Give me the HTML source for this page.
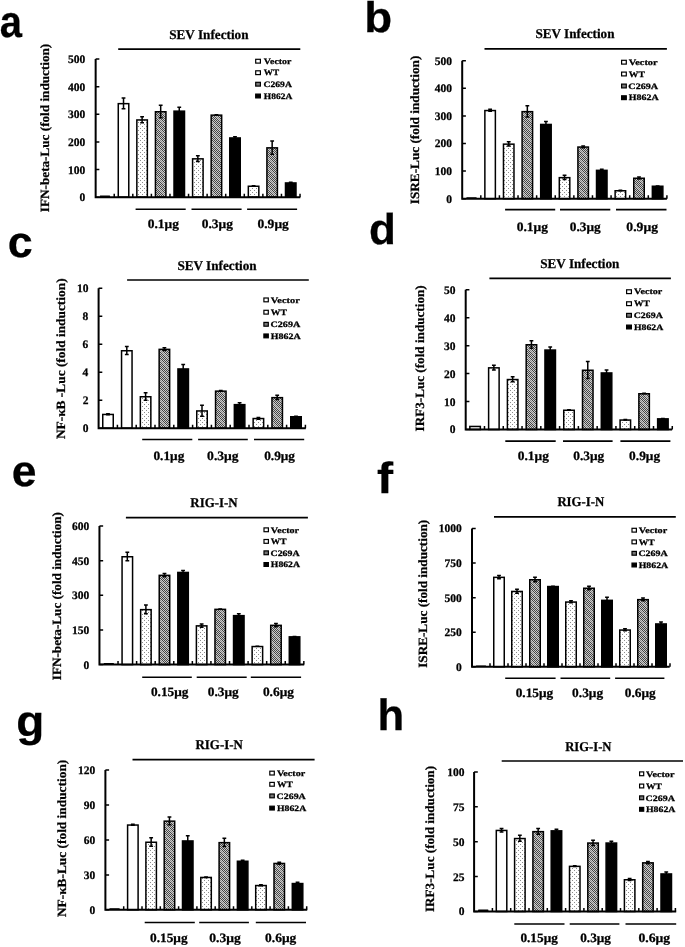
<!DOCTYPE html>
<html><head><meta charset="utf-8"><style>
html,body{margin:0;padding:0;background:#fff;}
svg{display:block;will-change:transform;}
text{font-family:"Liberation Serif",serif;font-weight:bold;fill:#000;text-rendering:geometricPrecision;stroke:#000;stroke-width:0.25px;}
text.L{font-family:"Liberation Sans",sans-serif;}
</style></head><body>
<svg width="685" height="947" viewBox="0 0 685 947">
<defs>
<pattern id="dots" patternUnits="userSpaceOnUse" width="4" height="4"><rect width="4" height="4" fill="#fff"/><rect x="0" y="0" width="1" height="1" fill="#8c8c8c"/><rect x="2" y="2" width="1" height="1" fill="#8c8c8c"/></pattern>
<pattern id="hatch" patternUnits="userSpaceOnUse" width="10" height="10"><rect x="0" y="0" width="1" height="1" fill="#888888"/><rect x="1" y="0" width="1" height="1" fill="#cccccc"/><rect x="2" y="0" width="1" height="1" fill="#444444"/><rect x="3" y="0" width="1" height="1" fill="#cccccc"/><rect x="4" y="0" width="1" height="1" fill="#444444"/><rect x="5" y="0" width="1" height="1" fill="#cccccc"/><rect x="6" y="0" width="1" height="1" fill="#444444"/><rect x="7" y="0" width="1" height="1" fill="#cccccc"/><rect x="8" y="0" width="1" height="1" fill="#444444"/><rect x="9" y="0" width="1" height="1" fill="#cccccc"/><rect x="0" y="1" width="1" height="1" fill="#cccccc"/><rect x="1" y="1" width="1" height="1" fill="#888888"/><rect x="2" y="1" width="1" height="1" fill="#cccccc"/><rect x="3" y="1" width="1" height="1" fill="#444444"/><rect x="4" y="1" width="1" height="1" fill="#cccccc"/><rect x="5" y="1" width="1" height="1" fill="#444444"/><rect x="6" y="1" width="1" height="1" fill="#cccccc"/><rect x="7" y="1" width="1" height="1" fill="#444444"/><rect x="8" y="1" width="1" height="1" fill="#cccccc"/><rect x="9" y="1" width="1" height="1" fill="#444444"/><rect x="0" y="2" width="1" height="1" fill="#444444"/><rect x="1" y="2" width="1" height="1" fill="#cccccc"/><rect x="2" y="2" width="1" height="1" fill="#888888"/><rect x="3" y="2" width="1" height="1" fill="#cccccc"/><rect x="4" y="2" width="1" height="1" fill="#444444"/><rect x="5" y="2" width="1" height="1" fill="#cccccc"/><rect x="6" y="2" width="1" height="1" fill="#444444"/><rect x="7" y="2" width="1" height="1" fill="#cccccc"/><rect x="8" y="2" width="1" height="1" fill="#444444"/><rect x="9" y="2" width="1" height="1" fill="#cccccc"/><rect x="0" y="3" width="1" height="1" fill="#cccccc"/><rect x="1" y="3" width="1" height="1" fill="#444444"/><rect x="2" y="3" width="1" height="1" fill="#cccccc"/><rect x="3" y="3" width="1" height="1" fill="#888888"/><rect x="4" y="3" width="1" height="1" fill="#cccccc"/><rect x="5" y="3" width="1" height="1" fill="#444444"/><rect x="6" y="3" width="1" height="1" fill="#cccccc"/><rect x="7" y="3" width="1" height="1" fill="#444444"/><rect x="8" y="3" width="1" height="1" fill="#cccccc"/><rect x="9" y="3" width="1" height="1" fill="#444444"/><rect x="0" y="4" width="1" height="1" fill="#444444"/><rect x="1" y="4" width="1" height="1" fill="#cccccc"/><rect x="2" y="4" width="1" height="1" fill="#444444"/><rect x="3" y="4" width="1" height="1" fill="#cccccc"/><rect x="4" y="4" width="1" height="1" fill="#888888"/><rect x="5" y="4" width="1" height="1" fill="#cccccc"/><rect x="6" y="4" width="1" height="1" fill="#444444"/><rect x="7" y="4" width="1" height="1" fill="#cccccc"/><rect x="8" y="4" width="1" height="1" fill="#444444"/><rect x="9" y="4" width="1" height="1" fill="#cccccc"/><rect x="0" y="5" width="1" height="1" fill="#cccccc"/><rect x="1" y="5" width="1" height="1" fill="#444444"/><rect x="2" y="5" width="1" height="1" fill="#cccccc"/><rect x="3" y="5" width="1" height="1" fill="#444444"/><rect x="4" y="5" width="1" height="1" fill="#cccccc"/><rect x="5" y="5" width="1" height="1" fill="#888888"/><rect x="6" y="5" width="1" height="1" fill="#cccccc"/><rect x="7" y="5" width="1" height="1" fill="#444444"/><rect x="8" y="5" width="1" height="1" fill="#cccccc"/><rect x="9" y="5" width="1" height="1" fill="#444444"/><rect x="0" y="6" width="1" height="1" fill="#444444"/><rect x="1" y="6" width="1" height="1" fill="#cccccc"/><rect x="2" y="6" width="1" height="1" fill="#444444"/><rect x="3" y="6" width="1" height="1" fill="#cccccc"/><rect x="4" y="6" width="1" height="1" fill="#444444"/><rect x="5" y="6" width="1" height="1" fill="#cccccc"/><rect x="6" y="6" width="1" height="1" fill="#888888"/><rect x="7" y="6" width="1" height="1" fill="#cccccc"/><rect x="8" y="6" width="1" height="1" fill="#444444"/><rect x="9" y="6" width="1" height="1" fill="#cccccc"/><rect x="0" y="7" width="1" height="1" fill="#cccccc"/><rect x="1" y="7" width="1" height="1" fill="#444444"/><rect x="2" y="7" width="1" height="1" fill="#cccccc"/><rect x="3" y="7" width="1" height="1" fill="#444444"/><rect x="4" y="7" width="1" height="1" fill="#cccccc"/><rect x="5" y="7" width="1" height="1" fill="#444444"/><rect x="6" y="7" width="1" height="1" fill="#cccccc"/><rect x="7" y="7" width="1" height="1" fill="#888888"/><rect x="8" y="7" width="1" height="1" fill="#cccccc"/><rect x="9" y="7" width="1" height="1" fill="#444444"/><rect x="0" y="8" width="1" height="1" fill="#444444"/><rect x="1" y="8" width="1" height="1" fill="#cccccc"/><rect x="2" y="8" width="1" height="1" fill="#444444"/><rect x="3" y="8" width="1" height="1" fill="#cccccc"/><rect x="4" y="8" width="1" height="1" fill="#444444"/><rect x="5" y="8" width="1" height="1" fill="#cccccc"/><rect x="6" y="8" width="1" height="1" fill="#444444"/><rect x="7" y="8" width="1" height="1" fill="#cccccc"/><rect x="8" y="8" width="1" height="1" fill="#888888"/><rect x="9" y="8" width="1" height="1" fill="#cccccc"/><rect x="0" y="9" width="1" height="1" fill="#cccccc"/><rect x="1" y="9" width="1" height="1" fill="#444444"/><rect x="2" y="9" width="1" height="1" fill="#cccccc"/><rect x="3" y="9" width="1" height="1" fill="#444444"/><rect x="4" y="9" width="1" height="1" fill="#cccccc"/><rect x="5" y="9" width="1" height="1" fill="#444444"/><rect x="6" y="9" width="1" height="1" fill="#cccccc"/><rect x="7" y="9" width="1" height="1" fill="#444444"/><rect x="8" y="9" width="1" height="1" fill="#cccccc"/><rect x="9" y="9" width="1" height="1" fill="#888888"/></pattern>
</defs>
<rect width="685" height="947" fill="#fff"/>
<rect x="99.74" y="195.60" width="10.40" height="1.55" rx="0.6" fill="#000"/>
<rect x="118.27" y="103.65" width="10.50" height="93.50" fill="#fff" stroke="#000" stroke-width="1.5"/>
<path d="M123.52 97.20V109.60M121.62 97.95H125.42M121.62 108.85H125.42" stroke="#000" stroke-width="1.5" fill="none"/>
<rect x="136.85" y="119.95" width="10.50" height="77.20" fill="url(#dots)" stroke="#000" stroke-width="1.5"/>
<path d="M142.10 116.00V123.40M140.20 116.75H144.00M140.20 122.65H144.00" stroke="#000" stroke-width="1.5" fill="none"/>
<rect x="155.43" y="111.75" width="10.50" height="85.40" fill="url(#hatch)" stroke="#000" stroke-width="1.5"/>
<path d="M160.68 104.40V118.60M158.78 105.15H162.58M158.78 117.85H162.58" stroke="#000" stroke-width="1.5" fill="none"/>
<rect x="174.01" y="111.15" width="10.50" height="86.00" fill="#000" stroke="#000" stroke-width="1.5"/>
<path d="M179.26 106.60V115.20M177.36 107.35H181.16M177.36 114.45H181.16" stroke="#000" stroke-width="1.5" fill="none"/>
<rect x="192.59" y="158.85" width="10.50" height="38.30" fill="url(#dots)" stroke="#000" stroke-width="1.5"/>
<path d="M197.84 155.00V162.20M195.94 155.75H199.74M195.94 161.45H199.74" stroke="#000" stroke-width="1.5" fill="none"/>
<rect x="211.17" y="115.15" width="10.50" height="82.00" fill="url(#hatch)" stroke="#000" stroke-width="1.5"/>
<path d="M216.42 114.00V115.80M214.52 114.75H218.32M214.52 115.05H218.32" stroke="#000" stroke-width="1.5" fill="none"/>
<rect x="229.75" y="137.95" width="10.50" height="59.20" fill="#000" stroke="#000" stroke-width="1.5"/>
<path d="M235.00 136.00V139.40M233.10 136.75H236.90M233.10 138.65H236.90" stroke="#000" stroke-width="1.5" fill="none"/>
<rect x="248.33" y="186.25" width="10.50" height="10.90" fill="url(#dots)" stroke="#000" stroke-width="1.5"/>
<path d="M253.58 185.00V187.00M251.68 185.75H255.48M251.68 186.25H255.48" stroke="#000" stroke-width="1.5" fill="none"/>
<rect x="266.91" y="147.85" width="10.50" height="49.30" fill="url(#hatch)" stroke="#000" stroke-width="1.5"/>
<path d="M272.16 140.30V154.90M270.26 141.05H274.06M270.26 154.15H274.06" stroke="#000" stroke-width="1.5" fill="none"/>
<rect x="285.49" y="182.95" width="10.50" height="14.20" fill="#000" stroke="#000" stroke-width="1.5"/>
<path d="M290.74 181.50V183.90M288.84 182.25H292.64M288.84 183.15H292.64" stroke="#000" stroke-width="1.5" fill="none"/>
<path d="M95.65 59.10V197.15H300.30" stroke="#000" stroke-width="2.0" fill="none" stroke-linejoin="miter"/>
<text x="79.43" y="201.12" font-size="11.50" textLength="5.75" lengthAdjust="spacingAndGlyphs">0</text>
<text x="67.93" y="173.51" font-size="11.50" textLength="17.25" lengthAdjust="spacingAndGlyphs">100</text>
<text x="67.93" y="145.90" font-size="11.50" textLength="17.25" lengthAdjust="spacingAndGlyphs">200</text>
<text x="67.93" y="118.29" font-size="11.50" textLength="17.25" lengthAdjust="spacingAndGlyphs">300</text>
<text x="67.93" y="90.68" font-size="11.50" textLength="17.25" lengthAdjust="spacingAndGlyphs">400</text>
<text x="67.93" y="63.07" font-size="11.50" textLength="17.25" lengthAdjust="spacingAndGlyphs">500</text>
<path d="M95.65 197.15H99.35M95.65 169.54H99.35M95.65 141.93H99.35M95.65 114.32H99.35M95.65 86.71H99.35M95.65 59.10H99.35M114.23 197.15V193.65M132.81 197.15V193.65M151.39 197.15V193.65M169.97 197.15V193.65M188.55 197.15V193.65M207.13 197.15V193.65M225.71 197.15V193.65M244.29 197.15V193.65M262.87 197.15V193.65M281.45 197.15V193.65M300.03 197.15V193.65" stroke="#000" stroke-width="1.5" fill="none"/>
<text x="169.21" y="39.00" font-size="13.40" textLength="79.30" lengthAdjust="spacingAndGlyphs">SEV Infection</text>
<path d="M118.20 49.10H300.30" stroke="#000" stroke-width="1.6"/>
<path d="M135.60 209.20H185.70" stroke="#000" stroke-width="1.6"/>
<path d="M191.50 209.20H241.60" stroke="#000" stroke-width="1.6"/>
<path d="M247.10 209.20H297.10" stroke="#000" stroke-width="1.6"/>
<text x="147.69" y="228.00" font-size="12.80" textLength="31.23" lengthAdjust="spacingAndGlyphs">0.1μg</text>
<text x="201.69" y="228.00" font-size="12.80" textLength="31.23" lengthAdjust="spacingAndGlyphs">0.3μg</text>
<text x="257.49" y="228.00" font-size="12.80" textLength="31.33" lengthAdjust="spacingAndGlyphs">0.9μg</text>
<rect x="255.70" y="59.30" width="4.70" height="3.80" fill="#fff" stroke="#000" stroke-width="1.2"/>
<text x="263.88" y="63.92" font-size="8.3" textLength="27.47" lengthAdjust="spacingAndGlyphs">Vector</text>
<rect x="255.70" y="70.80" width="4.70" height="3.80" fill="#fff" stroke="#000" stroke-width="1.2"/>
<text x="263.86" y="75.42" font-size="8.3" textLength="15.39" lengthAdjust="spacingAndGlyphs">WT</text>
<rect x="255.70" y="82.30" width="4.70" height="3.80" fill="#777" stroke="#000" stroke-width="1.2"/>
<text x="263.52" y="86.92" font-size="8.3" textLength="28.35" lengthAdjust="spacingAndGlyphs">C269A</text>
<rect x="255.70" y="94.10" width="4.70" height="3.80" fill="#000" stroke="#000" stroke-width="1.2"/>
<text x="263.83" y="98.72" font-size="8.3" textLength="28.44" lengthAdjust="spacingAndGlyphs">H862A</text>
<text transform="translate(49.10,212.13) rotate(-90)" x="0" y="0" font-size="12.60" textLength="168.40" lengthAdjust="spacingAndGlyphs">IFN-beta-Luc (fold induction)</text>
<text class="L" x="-0.30" y="36.65" font-size="44.75" textLength="22.25" lengthAdjust="spacingAndGlyphs">a</text>
<rect x="466.31" y="197.20" width="10.40" height="1.50" rx="0.6" fill="#000"/>
<rect x="484.87" y="110.55" width="10.50" height="88.15" fill="#fff" stroke="#000" stroke-width="1.5"/>
<path d="M490.12 108.50V112.10M488.22 109.25H492.01M488.22 111.35H492.01" stroke="#000" stroke-width="1.5" fill="none"/>
<rect x="503.47" y="144.15" width="10.50" height="54.55" fill="url(#dots)" stroke="#000" stroke-width="1.5"/>
<path d="M508.72 141.00V146.80M506.82 141.75H510.62M506.82 146.05H510.62" stroke="#000" stroke-width="1.5" fill="none"/>
<rect x="522.09" y="111.65" width="10.50" height="87.05" fill="url(#hatch)" stroke="#000" stroke-width="1.5"/>
<path d="M527.34 105.00V117.80M525.44 105.75H529.24M525.44 117.05H529.24" stroke="#000" stroke-width="1.5" fill="none"/>
<rect x="540.69" y="124.45" width="10.50" height="74.25" fill="#000" stroke="#000" stroke-width="1.5"/>
<path d="M545.94 120.80V127.60M544.04 121.55H547.84M544.04 126.85H547.84" stroke="#000" stroke-width="1.5" fill="none"/>
<rect x="559.30" y="177.65" width="10.50" height="21.05" fill="url(#dots)" stroke="#000" stroke-width="1.5"/>
<path d="M564.55 174.60V180.20M562.65 175.35H566.45M562.65 179.45H566.45" stroke="#000" stroke-width="1.5" fill="none"/>
<rect x="577.91" y="147.05" width="10.50" height="51.65" fill="url(#hatch)" stroke="#000" stroke-width="1.5"/>
<path d="M583.16 145.20V148.40M581.26 145.95H585.06M581.26 147.65H585.06" stroke="#000" stroke-width="1.5" fill="none"/>
<rect x="596.52" y="170.35" width="10.50" height="28.35" fill="#000" stroke="#000" stroke-width="1.5"/>
<path d="M601.77 168.50V171.70M599.88 169.25H603.67M599.88 170.95H603.67" stroke="#000" stroke-width="1.5" fill="none"/>
<rect x="615.13" y="190.75" width="10.50" height="7.95" fill="url(#dots)" stroke="#000" stroke-width="1.5"/>
<path d="M620.38 189.50V191.50M618.49 190.25H622.28M618.49 190.75H622.28" stroke="#000" stroke-width="1.5" fill="none"/>
<rect x="633.75" y="178.25" width="10.50" height="20.45" fill="url(#hatch)" stroke="#000" stroke-width="1.5"/>
<path d="M639.00 176.20V179.80M637.10 176.95H640.89M637.10 179.05H640.89" stroke="#000" stroke-width="1.5" fill="none"/>
<rect x="652.36" y="186.25" width="10.50" height="12.45" fill="#000" stroke="#000" stroke-width="1.5"/>
<path d="M657.61 185.30V186.70M655.71 186.05H659.50M655.71 185.95H659.50" stroke="#000" stroke-width="1.5" fill="none"/>
<path d="M462.20 60.70V198.70H666.90" stroke="#000" stroke-width="2.0" fill="none" stroke-linejoin="miter"/>
<text x="446.28" y="202.67" font-size="11.50" textLength="5.75" lengthAdjust="spacingAndGlyphs">0</text>
<text x="434.78" y="175.07" font-size="11.50" textLength="17.25" lengthAdjust="spacingAndGlyphs">100</text>
<text x="434.78" y="147.47" font-size="11.50" textLength="17.25" lengthAdjust="spacingAndGlyphs">200</text>
<text x="434.78" y="119.87" font-size="11.50" textLength="17.25" lengthAdjust="spacingAndGlyphs">300</text>
<text x="434.78" y="92.27" font-size="11.50" textLength="17.25" lengthAdjust="spacingAndGlyphs">400</text>
<text x="434.78" y="64.67" font-size="11.50" textLength="17.25" lengthAdjust="spacingAndGlyphs">500</text>
<path d="M462.20 198.70H465.90M462.20 171.10H465.90M462.20 143.50H465.90M462.20 115.90H465.90M462.20 88.30H465.90M462.20 60.70H465.90M480.81 198.70V195.20M499.42 198.70V195.20M518.03 198.70V195.20M536.64 198.70V195.20M555.25 198.70V195.20M573.86 198.70V195.20M592.47 198.70V195.20M611.08 198.70V195.20M629.69 198.70V195.20M648.30 198.70V195.20M666.91 198.70V195.20" stroke="#000" stroke-width="1.5" fill="none"/>
<text x="535.41" y="38.40" font-size="13.40" textLength="79.09" lengthAdjust="spacingAndGlyphs">SEV Infection</text>
<path d="M484.50 48.90H666.90" stroke="#000" stroke-width="1.6"/>
<path d="M505.10 209.60H555.20" stroke="#000" stroke-width="1.6"/>
<path d="M560.00 209.60H610.30" stroke="#000" stroke-width="1.6"/>
<path d="M616.00 209.60H666.50" stroke="#000" stroke-width="1.6"/>
<text x="516.69" y="230.50" font-size="12.80" textLength="31.33" lengthAdjust="spacingAndGlyphs">0.1μg</text>
<text x="569.80" y="230.50" font-size="12.80" textLength="30.93" lengthAdjust="spacingAndGlyphs">0.3μg</text>
<text x="626.39" y="230.50" font-size="12.80" textLength="31.64" lengthAdjust="spacingAndGlyphs">0.9μg</text>
<rect x="621.60" y="60.30" width="4.70" height="3.80" fill="#fff" stroke="#000" stroke-width="1.2"/>
<text x="628.77" y="64.92" font-size="8.3" textLength="28.87" lengthAdjust="spacingAndGlyphs">Vector</text>
<rect x="621.60" y="72.10" width="4.70" height="3.80" fill="#fff" stroke="#000" stroke-width="1.2"/>
<text x="628.75" y="76.72" font-size="8.3" textLength="16.18" lengthAdjust="spacingAndGlyphs">WT</text>
<rect x="621.60" y="84.10" width="4.70" height="3.80" fill="#777" stroke="#000" stroke-width="1.2"/>
<text x="628.39" y="88.72" font-size="8.3" textLength="29.80" lengthAdjust="spacingAndGlyphs">C269A</text>
<rect x="621.60" y="95.80" width="4.70" height="3.80" fill="#000" stroke="#000" stroke-width="1.2"/>
<text x="628.73" y="100.42" font-size="8.3" textLength="29.90" lengthAdjust="spacingAndGlyphs">H862A</text>
<text transform="translate(418.60,204.23) rotate(-90)" x="0" y="0" font-size="12.60" textLength="148.59" lengthAdjust="spacingAndGlyphs">ISRE-Luc (fold induction)</text>
<text class="L" x="364.33" y="31.97" font-size="42.86" textLength="27.94" lengthAdjust="spacingAndGlyphs">b</text>
<rect x="102.75" y="414.45" width="10.50" height="13.75" fill="#fff" stroke="#000" stroke-width="1.5"/>
<path d="M108.00 413.00V415.40M106.10 413.75H109.90M106.10 414.65H109.90" stroke="#000" stroke-width="1.5" fill="none"/>
<rect x="121.55" y="350.75" width="10.50" height="77.45" fill="#fff" stroke="#000" stroke-width="1.5"/>
<path d="M126.80 345.70V355.30M124.90 346.45H128.70M124.90 354.55H128.70" stroke="#000" stroke-width="1.5" fill="none"/>
<rect x="140.35" y="396.75" width="10.50" height="31.45" fill="url(#dots)" stroke="#000" stroke-width="1.5"/>
<path d="M145.60 392.10V400.90M143.70 392.85H147.50M143.70 400.15H147.50" stroke="#000" stroke-width="1.5" fill="none"/>
<rect x="159.15" y="349.35" width="10.50" height="78.85" fill="url(#hatch)" stroke="#000" stroke-width="1.5"/>
<path d="M164.40 347.00V351.20M162.50 347.75H166.30M162.50 350.45H166.30" stroke="#000" stroke-width="1.5" fill="none"/>
<rect x="177.95" y="368.95" width="10.50" height="59.25" fill="#000" stroke="#000" stroke-width="1.5"/>
<path d="M183.20 363.80V373.60M181.30 364.55H185.10M181.30 372.85H185.10" stroke="#000" stroke-width="1.5" fill="none"/>
<rect x="196.75" y="410.95" width="10.50" height="17.25" fill="url(#dots)" stroke="#000" stroke-width="1.5"/>
<path d="M202.00 404.40V417.00M200.10 405.15H203.90M200.10 416.25H203.90" stroke="#000" stroke-width="1.5" fill="none"/>
<rect x="215.55" y="391.15" width="10.50" height="37.05" fill="url(#hatch)" stroke="#000" stroke-width="1.5"/>
<path d="M220.80 389.80V392.00M218.90 390.55H222.70M218.90 391.25H222.70" stroke="#000" stroke-width="1.5" fill="none"/>
<rect x="234.35" y="404.65" width="10.50" height="23.55" fill="#000" stroke="#000" stroke-width="1.5"/>
<path d="M239.60 402.10V406.70M237.70 402.85H241.50M237.70 405.95H241.50" stroke="#000" stroke-width="1.5" fill="none"/>
<rect x="253.15" y="418.55" width="10.50" height="9.65" fill="url(#dots)" stroke="#000" stroke-width="1.5"/>
<path d="M258.40 416.70V419.90M256.50 417.45H260.30M256.50 419.15H260.30" stroke="#000" stroke-width="1.5" fill="none"/>
<rect x="271.95" y="397.65" width="10.50" height="30.55" fill="url(#hatch)" stroke="#000" stroke-width="1.5"/>
<path d="M277.20 394.60V400.20M275.30 395.35H279.10M275.30 399.45H279.10" stroke="#000" stroke-width="1.5" fill="none"/>
<rect x="290.75" y="416.75" width="10.50" height="11.45" fill="#000" stroke="#000" stroke-width="1.5"/>
<path d="M296.00 415.50V417.50M294.10 416.25H297.90M294.10 416.75H297.90" stroke="#000" stroke-width="1.5" fill="none"/>
<path d="M98.60 288.30V428.20H305.80" stroke="#000" stroke-width="2.0" fill="none" stroke-linejoin="miter"/>
<text x="82.68" y="432.17" font-size="11.50" textLength="5.75" lengthAdjust="spacingAndGlyphs">0</text>
<text x="82.74" y="404.18" font-size="11.50" textLength="5.75" lengthAdjust="spacingAndGlyphs">2</text>
<text x="82.45" y="376.17" font-size="11.50" textLength="5.75" lengthAdjust="spacingAndGlyphs">4</text>
<text x="82.59" y="348.22" font-size="11.50" textLength="5.75" lengthAdjust="spacingAndGlyphs">6</text>
<text x="82.62" y="320.25" font-size="11.50" textLength="5.75" lengthAdjust="spacingAndGlyphs">8</text>
<text x="76.93" y="292.27" font-size="11.50" textLength="11.50" lengthAdjust="spacingAndGlyphs">10</text>
<path d="M98.60 428.20H102.30M98.60 400.22H102.30M98.60 372.24H102.30M98.60 344.26H102.30M98.60 316.28H102.30M98.60 288.30H102.30M117.40 428.20V424.70M136.20 428.20V424.70M155.00 428.20V424.70M173.80 428.20V424.70M192.60 428.20V424.70M211.40 428.20V424.70M230.20 428.20V424.70M249.00 428.20V424.70M267.80 428.20V424.70M286.60 428.20V424.70M305.40 428.20V424.70" stroke="#000" stroke-width="1.5" fill="none"/>
<text x="177.41" y="269.70" font-size="13.40" textLength="79.20" lengthAdjust="spacingAndGlyphs">SEV Infection</text>
<path d="M127.10 280.00H308.80" stroke="#000" stroke-width="1.6"/>
<path d="M142.20 439.50H192.30" stroke="#000" stroke-width="1.6"/>
<path d="M198.10 439.50H247.80" stroke="#000" stroke-width="1.6"/>
<path d="M254.00 439.50H304.20" stroke="#000" stroke-width="1.6"/>
<text x="153.40" y="459.90" font-size="12.80" textLength="30.93" lengthAdjust="spacingAndGlyphs">0.1μg</text>
<text x="207.09" y="459.90" font-size="12.80" textLength="31.54" lengthAdjust="spacingAndGlyphs">0.3μg</text>
<text x="264.20" y="459.90" font-size="12.80" textLength="30.82" lengthAdjust="spacingAndGlyphs">0.9μg</text>
<rect x="263.90" y="298.00" width="4.40" height="3.80" fill="#fff" stroke="#000" stroke-width="1.2"/>
<text x="270.87" y="302.62" font-size="8.3" textLength="28.87" lengthAdjust="spacingAndGlyphs">Vector</text>
<rect x="263.90" y="310.30" width="4.40" height="3.80" fill="#fff" stroke="#000" stroke-width="1.2"/>
<text x="270.85" y="314.92" font-size="8.3" textLength="16.18" lengthAdjust="spacingAndGlyphs">WT</text>
<rect x="263.90" y="322.40" width="4.40" height="3.80" fill="#777" stroke="#000" stroke-width="1.2"/>
<text x="270.49" y="327.02" font-size="8.3" textLength="29.80" lengthAdjust="spacingAndGlyphs">C269A</text>
<rect x="263.90" y="334.00" width="4.40" height="3.80" fill="#000" stroke="#000" stroke-width="1.2"/>
<text x="270.83" y="338.62" font-size="8.3" textLength="29.90" lengthAdjust="spacingAndGlyphs">H862A</text>
<text transform="translate(65.00,439.07) rotate(-90)" x="0" y="0" font-size="12.60" textLength="160.65" lengthAdjust="spacingAndGlyphs">NF-κB -Luc (fold induction)</text>
<text class="L" x="7.80" y="257.26" font-size="43.65" textLength="24.98" lengthAdjust="spacingAndGlyphs">c</text>
<rect x="469.84" y="426.45" width="10.50" height="3.05" fill="#fff" stroke="#000" stroke-width="1.5"/>
<rect x="488.62" y="367.85" width="10.50" height="61.65" fill="#fff" stroke="#000" stroke-width="1.5"/>
<path d="M493.87 364.50V370.70M491.97 365.25H495.77M491.97 369.95H495.77" stroke="#000" stroke-width="1.5" fill="none"/>
<rect x="507.40" y="379.55" width="10.50" height="49.95" fill="url(#dots)" stroke="#000" stroke-width="1.5"/>
<path d="M512.65 376.10V382.50M510.75 376.85H514.55M510.75 381.75H514.55" stroke="#000" stroke-width="1.5" fill="none"/>
<rect x="526.18" y="344.75" width="10.50" height="84.75" fill="url(#hatch)" stroke="#000" stroke-width="1.5"/>
<path d="M531.43 340.10V348.90M529.53 340.85H533.33M529.53 348.15H533.33" stroke="#000" stroke-width="1.5" fill="none"/>
<rect x="544.96" y="350.05" width="10.50" height="79.45" fill="#000" stroke="#000" stroke-width="1.5"/>
<path d="M550.21 346.20V353.40M548.31 346.95H552.11M548.31 352.65H552.11" stroke="#000" stroke-width="1.5" fill="none"/>
<rect x="563.74" y="410.25" width="10.50" height="19.25" fill="url(#dots)" stroke="#000" stroke-width="1.5"/>
<path d="M568.99 408.90V411.10M567.09 409.65H570.89M567.09 410.35H570.89" stroke="#000" stroke-width="1.5" fill="none"/>
<rect x="582.52" y="370.25" width="10.50" height="59.25" fill="url(#hatch)" stroke="#000" stroke-width="1.5"/>
<path d="M587.77 360.70V379.30M585.87 361.45H589.67M585.87 378.55H589.67" stroke="#000" stroke-width="1.5" fill="none"/>
<rect x="601.30" y="372.95" width="10.50" height="56.55" fill="#000" stroke="#000" stroke-width="1.5"/>
<path d="M606.55 369.30V376.10M604.65 370.05H608.45M604.65 375.35H608.45" stroke="#000" stroke-width="1.5" fill="none"/>
<rect x="620.08" y="420.05" width="10.50" height="9.45" fill="url(#dots)" stroke="#000" stroke-width="1.5"/>
<path d="M625.33 418.80V420.80M623.43 419.55H627.23M623.43 420.05H627.23" stroke="#000" stroke-width="1.5" fill="none"/>
<rect x="638.86" y="393.75" width="10.50" height="35.75" fill="url(#hatch)" stroke="#000" stroke-width="1.5"/>
<path d="M644.11 392.60V394.40M642.21 393.35H646.01M642.21 393.65H646.01" stroke="#000" stroke-width="1.5" fill="none"/>
<rect x="657.64" y="418.85" width="10.50" height="10.65" fill="#000" stroke="#000" stroke-width="1.5"/>
<path d="M662.89 418.00V419.20M660.99 418.75H664.79M660.99 418.45H664.79" stroke="#000" stroke-width="1.5" fill="none"/>
<path d="M465.70 289.80V429.50H672.10" stroke="#000" stroke-width="2.0" fill="none" stroke-linejoin="miter"/>
<text x="449.78" y="433.47" font-size="11.50" textLength="5.75" lengthAdjust="spacingAndGlyphs">0</text>
<text x="444.03" y="405.53" font-size="11.50" textLength="11.50" lengthAdjust="spacingAndGlyphs">10</text>
<text x="444.03" y="377.59" font-size="11.50" textLength="11.50" lengthAdjust="spacingAndGlyphs">20</text>
<text x="444.03" y="349.65" font-size="11.50" textLength="11.50" lengthAdjust="spacingAndGlyphs">30</text>
<text x="444.03" y="321.71" font-size="11.50" textLength="11.50" lengthAdjust="spacingAndGlyphs">40</text>
<text x="444.03" y="293.77" font-size="11.50" textLength="11.50" lengthAdjust="spacingAndGlyphs">50</text>
<path d="M465.70 429.50H469.40M465.70 401.56H469.40M465.70 373.62H469.40M465.70 345.68H469.40M465.70 317.74H469.40M465.70 289.80H469.40M484.48 429.50V426.00M503.26 429.50V426.00M522.04 429.50V426.00M540.82 429.50V426.00M559.60 429.50V426.00M578.38 429.50V426.00M597.16 429.50V426.00M615.94 429.50V426.00M634.72 429.50V426.00M653.50 429.50V426.00M672.28 429.50V426.00" stroke="#000" stroke-width="1.5" fill="none"/>
<text x="540.21" y="267.90" font-size="13.40" textLength="79.20" lengthAdjust="spacingAndGlyphs">SEV Infection</text>
<path d="M489.40 278.40H670.90" stroke="#000" stroke-width="1.6"/>
<path d="M505.30 441.10H555.70" stroke="#000" stroke-width="1.6"/>
<path d="M563.00 441.10H612.60" stroke="#000" stroke-width="1.6"/>
<path d="M620.40 441.10H670.40" stroke="#000" stroke-width="1.6"/>
<text x="517.69" y="460.30" font-size="12.80" textLength="31.23" lengthAdjust="spacingAndGlyphs">0.1μg</text>
<text x="573.20" y="460.30" font-size="12.80" textLength="31.03" lengthAdjust="spacingAndGlyphs">0.3μg</text>
<text x="629.10" y="460.30" font-size="12.80" textLength="31.03" lengthAdjust="spacingAndGlyphs">0.9μg</text>
<rect x="626.60" y="289.80" width="4.80" height="3.80" fill="#fff" stroke="#000" stroke-width="1.2"/>
<text x="634.07" y="294.42" font-size="8.3" textLength="28.27" lengthAdjust="spacingAndGlyphs">Vector</text>
<rect x="626.60" y="301.80" width="4.80" height="3.80" fill="#fff" stroke="#000" stroke-width="1.2"/>
<text x="634.06" y="306.42" font-size="8.3" textLength="15.84" lengthAdjust="spacingAndGlyphs">WT</text>
<rect x="626.60" y="313.40" width="4.80" height="3.80" fill="#777" stroke="#000" stroke-width="1.2"/>
<text x="633.70" y="318.02" font-size="8.3" textLength="29.18" lengthAdjust="spacingAndGlyphs">C269A</text>
<rect x="626.60" y="325.10" width="4.80" height="3.80" fill="#000" stroke="#000" stroke-width="1.2"/>
<text x="634.03" y="329.72" font-size="8.3" textLength="29.27" lengthAdjust="spacingAndGlyphs">H862A</text>
<text transform="translate(423.50,431.43) rotate(-90)" x="0" y="0" font-size="12.60" textLength="146.09" lengthAdjust="spacingAndGlyphs">IRF3-Luc (fold induction)</text>
<text class="L" x="369.04" y="244.17" font-size="43.27" textLength="26.85" lengthAdjust="spacingAndGlyphs">d</text>
<rect x="103.54" y="663.00" width="10.40" height="1.60" rx="0.6" fill="#000"/>
<rect x="122.07" y="556.75" width="10.50" height="107.85" fill="#fff" stroke="#000" stroke-width="1.5"/>
<path d="M127.32 551.60V561.40M125.42 552.35H129.22M125.42 560.65H129.22" stroke="#000" stroke-width="1.5" fill="none"/>
<rect x="140.65" y="609.65" width="10.50" height="54.95" fill="url(#dots)" stroke="#000" stroke-width="1.5"/>
<path d="M145.90 604.30V614.50M144.00 605.05H147.80M144.00 613.75H147.80" stroke="#000" stroke-width="1.5" fill="none"/>
<rect x="159.23" y="575.35" width="10.50" height="89.25" fill="url(#hatch)" stroke="#000" stroke-width="1.5"/>
<path d="M164.48 572.70V577.50M162.58 573.45H166.38M162.58 576.75H166.38" stroke="#000" stroke-width="1.5" fill="none"/>
<rect x="177.81" y="572.45" width="10.50" height="92.15" fill="#000" stroke="#000" stroke-width="1.5"/>
<path d="M183.06 569.80V574.60M181.16 570.55H184.96M181.16 573.85H184.96" stroke="#000" stroke-width="1.5" fill="none"/>
<rect x="196.39" y="625.85" width="10.50" height="38.75" fill="url(#dots)" stroke="#000" stroke-width="1.5"/>
<path d="M201.64 623.20V628.00M199.74 623.95H203.54M199.74 627.25H203.54" stroke="#000" stroke-width="1.5" fill="none"/>
<rect x="214.97" y="609.35" width="10.50" height="55.25" fill="url(#hatch)" stroke="#000" stroke-width="1.5"/>
<path d="M220.22 608.50V609.70M218.32 609.25H222.12M218.32 608.95H222.12" stroke="#000" stroke-width="1.5" fill="none"/>
<rect x="233.55" y="615.65" width="10.50" height="48.95" fill="#000" stroke="#000" stroke-width="1.5"/>
<path d="M238.80 613.00V617.80M236.90 613.75H240.70M236.90 617.05H240.70" stroke="#000" stroke-width="1.5" fill="none"/>
<rect x="252.13" y="646.55" width="10.50" height="18.05" fill="url(#dots)" stroke="#000" stroke-width="1.5"/>
<path d="M257.38 645.50V647.10M255.48 646.25H259.28M255.48 646.35H259.28" stroke="#000" stroke-width="1.5" fill="none"/>
<rect x="270.71" y="625.35" width="10.50" height="39.25" fill="url(#hatch)" stroke="#000" stroke-width="1.5"/>
<path d="M275.96 622.70V627.50M274.06 623.45H277.86M274.06 626.75H277.86" stroke="#000" stroke-width="1.5" fill="none"/>
<rect x="289.29" y="636.85" width="10.50" height="27.75" fill="#000" stroke="#000" stroke-width="1.5"/>
<path d="M294.54 636.00V637.20M292.64 636.75H296.44M292.64 636.45H296.44" stroke="#000" stroke-width="1.5" fill="none"/>
<path d="M99.45 526.10V664.60H304.20" stroke="#000" stroke-width="2.0" fill="none" stroke-linejoin="miter"/>
<text x="83.53" y="668.57" font-size="11.50" textLength="5.75" lengthAdjust="spacingAndGlyphs">0</text>
<text x="72.03" y="633.95" font-size="11.50" textLength="17.25" lengthAdjust="spacingAndGlyphs">150</text>
<text x="72.03" y="599.32" font-size="11.50" textLength="17.25" lengthAdjust="spacingAndGlyphs">300</text>
<text x="72.03" y="564.70" font-size="11.50" textLength="17.25" lengthAdjust="spacingAndGlyphs">450</text>
<text x="72.03" y="530.07" font-size="11.50" textLength="17.25" lengthAdjust="spacingAndGlyphs">600</text>
<path d="M99.45 664.60H103.15M99.45 629.98H103.15M99.45 595.35H103.15M99.45 560.73H103.15M99.45 526.10H103.15M118.03 664.60V661.10M136.61 664.60V661.10M155.19 664.60V661.10M173.77 664.60V661.10M192.35 664.60V661.10M210.93 664.60V661.10M229.51 664.60V661.10M248.09 664.60V661.10M266.67 664.60V661.10M285.25 664.60V661.10M303.83 664.60V661.10" stroke="#000" stroke-width="1.5" fill="none"/>
<text x="190.37" y="506.70" font-size="13.40" textLength="47.28" lengthAdjust="spacingAndGlyphs">RIG-I-N</text>
<path d="M125.90 517.60H307.90" stroke="#000" stroke-width="1.6"/>
<path d="M142.20 677.30H191.80" stroke="#000" stroke-width="1.6"/>
<path d="M196.70 677.30H246.70" stroke="#000" stroke-width="1.6"/>
<path d="M250.80 677.30H301.10" stroke="#000" stroke-width="1.6"/>
<text x="150.90" y="696.10" font-size="12.80" textLength="37.52" lengthAdjust="spacingAndGlyphs">0.15μg</text>
<text x="207.80" y="696.10" font-size="12.80" textLength="31.03" lengthAdjust="spacingAndGlyphs">0.3μg</text>
<text x="262.90" y="696.10" font-size="12.80" textLength="31.03" lengthAdjust="spacingAndGlyphs">0.6μg</text>
<rect x="264.00" y="527.90" width="4.40" height="3.80" fill="#fff" stroke="#000" stroke-width="1.2"/>
<text x="270.87" y="532.52" font-size="8.3" textLength="28.17" lengthAdjust="spacingAndGlyphs">Vector</text>
<rect x="264.00" y="539.50" width="4.40" height="3.80" fill="#fff" stroke="#000" stroke-width="1.2"/>
<text x="270.86" y="544.12" font-size="8.3" textLength="15.78" lengthAdjust="spacingAndGlyphs">WT</text>
<rect x="264.00" y="550.90" width="4.40" height="3.80" fill="#777" stroke="#000" stroke-width="1.2"/>
<text x="270.51" y="555.52" font-size="8.3" textLength="29.08" lengthAdjust="spacingAndGlyphs">C269A</text>
<rect x="264.00" y="562.60" width="4.40" height="3.80" fill="#000" stroke="#000" stroke-width="1.2"/>
<text x="270.83" y="567.22" font-size="8.3" textLength="29.17" lengthAdjust="spacingAndGlyphs">H862A</text>
<text transform="translate(60.90,680.23) rotate(-90)" x="0" y="0" font-size="12.60" textLength="168.20" lengthAdjust="spacingAndGlyphs">IFN-beta-Luc (fold induction)</text>
<text class="L" x="11.72" y="486.16" font-size="43.84" textLength="24.78" lengthAdjust="spacingAndGlyphs">e</text>
<rect x="475.80" y="665.40" width="10.40" height="1.40" rx="0.6" fill="#000"/>
<rect x="493.75" y="577.35" width="10.50" height="89.45" fill="#fff" stroke="#000" stroke-width="1.5"/>
<path d="M499.00 574.70V579.50M497.10 575.45H500.90M497.10 578.75H500.90" stroke="#000" stroke-width="1.5" fill="none"/>
<rect x="511.75" y="591.45" width="10.50" height="75.35" fill="url(#dots)" stroke="#000" stroke-width="1.5"/>
<path d="M517.00 588.50V593.90M515.10 589.25H518.90M515.10 593.15H518.90" stroke="#000" stroke-width="1.5" fill="none"/>
<rect x="529.75" y="579.75" width="10.50" height="87.05" fill="url(#hatch)" stroke="#000" stroke-width="1.5"/>
<path d="M535.00 576.60V582.40M533.10 577.35H536.90M533.10 581.65H536.90" stroke="#000" stroke-width="1.5" fill="none"/>
<rect x="547.75" y="586.55" width="10.50" height="80.25" fill="#000" stroke="#000" stroke-width="1.5"/>
<path d="M553.00 585.50V587.10M551.10 586.25H554.90M551.10 586.35H554.90" stroke="#000" stroke-width="1.5" fill="none"/>
<rect x="565.75" y="602.05" width="10.50" height="64.75" fill="url(#dots)" stroke="#000" stroke-width="1.5"/>
<path d="M571.00 600.10V603.50M569.10 600.85H572.90M569.10 602.75H572.90" stroke="#000" stroke-width="1.5" fill="none"/>
<rect x="583.75" y="588.25" width="10.50" height="78.55" fill="url(#hatch)" stroke="#000" stroke-width="1.5"/>
<path d="M589.00 585.60V590.40M587.10 586.35H590.90M587.10 589.65H590.90" stroke="#000" stroke-width="1.5" fill="none"/>
<rect x="601.75" y="600.35" width="10.50" height="66.45" fill="#000" stroke="#000" stroke-width="1.5"/>
<path d="M607.00 596.50V603.70M605.10 597.25H608.90M605.10 602.95H608.90" stroke="#000" stroke-width="1.5" fill="none"/>
<rect x="619.75" y="630.05" width="10.50" height="36.75" fill="url(#dots)" stroke="#000" stroke-width="1.5"/>
<path d="M625.00 628.00V631.60M623.10 628.75H626.90M623.10 630.85H626.90" stroke="#000" stroke-width="1.5" fill="none"/>
<rect x="637.75" y="599.65" width="10.50" height="67.15" fill="url(#hatch)" stroke="#000" stroke-width="1.5"/>
<path d="M643.00 597.20V601.60M641.10 597.95H644.90M641.10 600.85H644.90" stroke="#000" stroke-width="1.5" fill="none"/>
<rect x="655.75" y="623.95" width="10.50" height="42.85" fill="#000" stroke="#000" stroke-width="1.5"/>
<path d="M661.00 621.30V626.10M659.10 622.05H662.90M659.10 625.35H662.90" stroke="#000" stroke-width="1.5" fill="none"/>
<path d="M472.00 528.50V666.80H669.70" stroke="#000" stroke-width="2.0" fill="none" stroke-linejoin="miter"/>
<text x="456.08" y="670.77" font-size="11.50" textLength="5.75" lengthAdjust="spacingAndGlyphs">0</text>
<text x="444.58" y="636.20" font-size="11.50" textLength="17.25" lengthAdjust="spacingAndGlyphs">250</text>
<text x="444.58" y="601.62" font-size="11.50" textLength="17.25" lengthAdjust="spacingAndGlyphs">500</text>
<text x="444.58" y="567.05" font-size="11.50" textLength="17.25" lengthAdjust="spacingAndGlyphs">750</text>
<text x="438.83" y="532.47" font-size="11.50" textLength="23.00" lengthAdjust="spacingAndGlyphs">1000</text>
<path d="M472.00 666.80H475.70M472.00 632.22H475.70M472.00 597.65H475.70M472.00 563.08H475.70M472.00 528.50H475.70M490.00 666.80V663.30M508.00 666.80V663.30M526.00 666.80V663.30M544.00 666.80V663.30M562.00 666.80V663.30M580.00 666.80V663.30M598.00 666.80V663.30M616.00 666.80V663.30M634.00 666.80V663.30M652.00 666.80V663.30M670.00 666.80V663.30" stroke="#000" stroke-width="1.5" fill="none"/>
<text x="557.38" y="506.20" font-size="13.40" textLength="46.97" lengthAdjust="spacingAndGlyphs">RIG-I-N</text>
<path d="M494.00 516.90H675.80" stroke="#000" stroke-width="1.6"/>
<path d="M505.20 678.30H555.60" stroke="#000" stroke-width="1.6"/>
<path d="M560.50 678.30H610.20" stroke="#000" stroke-width="1.6"/>
<path d="M615.10 678.30H664.40" stroke="#000" stroke-width="1.6"/>
<text x="515.70" y="696.50" font-size="12.80" textLength="37.52" lengthAdjust="spacingAndGlyphs">0.15μg</text>
<text x="572.10" y="696.50" font-size="12.80" textLength="31.03" lengthAdjust="spacingAndGlyphs">0.3μg</text>
<text x="624.80" y="696.50" font-size="12.80" textLength="30.93" lengthAdjust="spacingAndGlyphs">0.6μg</text>
<rect x="632.00" y="528.30" width="4.40" height="3.80" fill="#fff" stroke="#000" stroke-width="1.2"/>
<text x="638.77" y="532.92" font-size="8.3" textLength="28.47" lengthAdjust="spacingAndGlyphs">Vector</text>
<rect x="632.00" y="540.00" width="4.40" height="3.80" fill="#fff" stroke="#000" stroke-width="1.2"/>
<text x="638.76" y="544.62" font-size="8.3" textLength="15.95" lengthAdjust="spacingAndGlyphs">WT</text>
<rect x="632.00" y="551.40" width="4.40" height="3.80" fill="#777" stroke="#000" stroke-width="1.2"/>
<text x="638.40" y="556.02" font-size="8.3" textLength="29.39" lengthAdjust="spacingAndGlyphs">C269A</text>
<rect x="632.00" y="563.10" width="4.40" height="3.80" fill="#000" stroke="#000" stroke-width="1.2"/>
<text x="638.73" y="567.72" font-size="8.3" textLength="29.48" lengthAdjust="spacingAndGlyphs">H862A</text>
<text transform="translate(426.70,667.83) rotate(-90)" x="0" y="0" font-size="12.60" textLength="148.09" lengthAdjust="spacingAndGlyphs">ISRE-Luc (fold induction)</text>
<text class="L" x="377.06" y="492.80" font-size="43.72" textLength="16.05" lengthAdjust="spacingAndGlyphs">f</text>
<rect x="109.35" y="908.20" width="10.40" height="1.60" rx="0.6" fill="#000"/>
<rect x="127.60" y="825.05" width="10.50" height="84.75" fill="#fff" stroke="#000" stroke-width="1.5"/>
<path d="M132.85 823.60V826.00M130.95 824.35H134.75M130.95 825.25H134.75" stroke="#000" stroke-width="1.5" fill="none"/>
<rect x="145.90" y="842.25" width="10.50" height="67.55" fill="url(#dots)" stroke="#000" stroke-width="1.5"/>
<path d="M151.15 837.10V846.90M149.25 837.85H153.05M149.25 846.15H153.05" stroke="#000" stroke-width="1.5" fill="none"/>
<rect x="164.20" y="821.15" width="10.50" height="88.65" fill="url(#hatch)" stroke="#000" stroke-width="1.5"/>
<path d="M169.45 816.20V825.60M167.55 816.95H171.35M167.55 824.85H171.35" stroke="#000" stroke-width="1.5" fill="none"/>
<rect x="182.50" y="840.95" width="10.50" height="68.85" fill="#000" stroke="#000" stroke-width="1.5"/>
<path d="M187.75 835.10V846.30M185.85 835.85H189.65M185.85 845.55H189.65" stroke="#000" stroke-width="1.5" fill="none"/>
<rect x="200.80" y="877.45" width="10.50" height="32.35" fill="url(#dots)" stroke="#000" stroke-width="1.5"/>
<path d="M206.05 876.20V878.20M204.15 876.95H207.95M204.15 877.45H207.95" stroke="#000" stroke-width="1.5" fill="none"/>
<rect x="219.10" y="842.65" width="10.50" height="67.15" fill="url(#hatch)" stroke="#000" stroke-width="1.5"/>
<path d="M224.35 837.50V847.30M222.45 838.25H226.25M222.45 846.55H226.25" stroke="#000" stroke-width="1.5" fill="none"/>
<rect x="237.40" y="861.25" width="10.50" height="48.55" fill="#000" stroke="#000" stroke-width="1.5"/>
<path d="M242.65 859.60V862.40M240.75 860.35H244.55M240.75 861.65H244.55" stroke="#000" stroke-width="1.5" fill="none"/>
<rect x="255.70" y="885.55" width="10.50" height="24.25" fill="url(#dots)" stroke="#000" stroke-width="1.5"/>
<path d="M260.95 884.10V886.50M259.05 884.85H262.85M259.05 885.75H262.85" stroke="#000" stroke-width="1.5" fill="none"/>
<rect x="274.00" y="863.45" width="10.50" height="46.35" fill="url(#hatch)" stroke="#000" stroke-width="1.5"/>
<path d="M279.25 861.50V864.90M277.35 862.25H281.15M277.35 864.15H281.15" stroke="#000" stroke-width="1.5" fill="none"/>
<rect x="292.30" y="883.55" width="10.50" height="26.25" fill="#000" stroke="#000" stroke-width="1.5"/>
<path d="M297.55 881.60V885.00M295.65 882.35H299.45M295.65 884.25H299.45" stroke="#000" stroke-width="1.5" fill="none"/>
<path d="M105.40 770.10V909.80H307.20" stroke="#000" stroke-width="2.0" fill="none" stroke-linejoin="miter"/>
<text x="89.48" y="913.77" font-size="11.50" textLength="5.75" lengthAdjust="spacingAndGlyphs">0</text>
<text x="83.73" y="878.85" font-size="11.50" textLength="11.50" lengthAdjust="spacingAndGlyphs">30</text>
<text x="83.73" y="843.92" font-size="11.50" textLength="11.50" lengthAdjust="spacingAndGlyphs">60</text>
<text x="83.73" y="809.00" font-size="11.50" textLength="11.50" lengthAdjust="spacingAndGlyphs">90</text>
<text x="77.98" y="774.07" font-size="11.50" textLength="17.25" lengthAdjust="spacingAndGlyphs">120</text>
<path d="M105.40 909.80H109.10M105.40 874.88H109.10M105.40 839.95H109.10M105.40 805.02H109.10M105.40 770.10H109.10M123.70 909.80V906.30M142.00 909.80V906.30M160.30 909.80V906.30M178.60 909.80V906.30M196.90 909.80V906.30M215.20 909.80V906.30M233.50 909.80V906.30M251.80 909.80V906.30M270.10 909.80V906.30M288.40 909.80V906.30M306.70 909.80V906.30" stroke="#000" stroke-width="1.5" fill="none"/>
<text x="195.47" y="749.30" font-size="13.40" textLength="47.48" lengthAdjust="spacingAndGlyphs">RIG-I-N</text>
<path d="M132.50 759.60H314.60" stroke="#000" stroke-width="1.6"/>
<path d="M144.70 922.50H194.80" stroke="#000" stroke-width="1.6"/>
<path d="M199.20 922.50H248.90" stroke="#000" stroke-width="1.6"/>
<path d="M255.80 922.50H306.00" stroke="#000" stroke-width="1.6"/>
<text x="150.00" y="941.70" font-size="12.80" textLength="37.63" lengthAdjust="spacingAndGlyphs">0.15μg</text>
<text x="209.19" y="941.70" font-size="12.80" textLength="31.54" lengthAdjust="spacingAndGlyphs">0.3μg</text>
<text x="265.09" y="941.70" font-size="12.80" textLength="31.23" lengthAdjust="spacingAndGlyphs">0.6μg</text>
<rect x="269.80" y="771.20" width="4.50" height="3.80" fill="#fff" stroke="#000" stroke-width="1.2"/>
<text x="276.97" y="775.82" font-size="8.3" textLength="28.27" lengthAdjust="spacingAndGlyphs">Vector</text>
<rect x="269.80" y="782.40" width="4.50" height="3.80" fill="#fff" stroke="#000" stroke-width="1.2"/>
<text x="276.96" y="787.02" font-size="8.3" textLength="15.84" lengthAdjust="spacingAndGlyphs">WT</text>
<rect x="269.80" y="794.00" width="4.50" height="3.80" fill="#777" stroke="#000" stroke-width="1.2"/>
<text x="276.60" y="798.62" font-size="8.3" textLength="29.18" lengthAdjust="spacingAndGlyphs">C269A</text>
<rect x="269.80" y="806.20" width="4.50" height="3.80" fill="#000" stroke="#000" stroke-width="1.2"/>
<text x="276.93" y="810.82" font-size="8.3" textLength="29.27" lengthAdjust="spacingAndGlyphs">H862A</text>
<text transform="translate(65.70,917.07) rotate(-90)" x="0" y="0" font-size="12.60" textLength="157.35" lengthAdjust="spacingAndGlyphs">NF-κB-Luc (fold induction)</text>
<text class="L" x="16.16" y="736.21" font-size="43.73" textLength="28.06" lengthAdjust="spacingAndGlyphs">g</text>
<rect x="478.05" y="909.60" width="10.40" height="1.90" rx="0.6" fill="#000"/>
<rect x="496.30" y="830.45" width="10.50" height="81.05" fill="#fff" stroke="#000" stroke-width="1.5"/>
<path d="M501.55 827.70V832.70M499.65 828.45H503.45M499.65 831.95H503.45" stroke="#000" stroke-width="1.5" fill="none"/>
<rect x="514.60" y="838.55" width="10.50" height="72.95" fill="url(#dots)" stroke="#000" stroke-width="1.5"/>
<path d="M519.85 834.60V842.00M517.95 835.35H521.75M517.95 841.25H521.75" stroke="#000" stroke-width="1.5" fill="none"/>
<rect x="532.90" y="831.65" width="10.50" height="79.85" fill="url(#hatch)" stroke="#000" stroke-width="1.5"/>
<path d="M538.15 827.70V835.10M536.25 828.45H540.05M536.25 834.35H540.05" stroke="#000" stroke-width="1.5" fill="none"/>
<rect x="551.20" y="830.85" width="10.50" height="80.65" fill="#000" stroke="#000" stroke-width="1.5"/>
<path d="M556.45 828.40V832.80M554.55 829.15H558.35M554.55 832.05H558.35" stroke="#000" stroke-width="1.5" fill="none"/>
<rect x="569.50" y="866.35" width="10.50" height="45.15" fill="url(#dots)" stroke="#000" stroke-width="1.5"/>
<path d="M574.75 864.90V867.30M572.85 865.65H576.65M572.85 866.55H576.65" stroke="#000" stroke-width="1.5" fill="none"/>
<rect x="587.80" y="843.05" width="10.50" height="68.45" fill="url(#hatch)" stroke="#000" stroke-width="1.5"/>
<path d="M593.05 839.40V846.20M591.15 840.15H594.95M591.15 845.45H594.95" stroke="#000" stroke-width="1.5" fill="none"/>
<rect x="606.10" y="843.05" width="10.50" height="68.45" fill="#000" stroke="#000" stroke-width="1.5"/>
<path d="M611.35 840.60V845.00M609.45 841.35H613.25M609.45 844.25H613.25" stroke="#000" stroke-width="1.5" fill="none"/>
<rect x="624.40" y="879.75" width="10.50" height="31.75" fill="url(#dots)" stroke="#000" stroke-width="1.5"/>
<path d="M629.65 877.80V881.20M627.75 878.55H631.55M627.75 880.45H631.55" stroke="#000" stroke-width="1.5" fill="none"/>
<rect x="642.70" y="862.85" width="10.50" height="48.65" fill="url(#hatch)" stroke="#000" stroke-width="1.5"/>
<path d="M647.95 860.70V864.50M646.05 861.45H649.85M646.05 863.75H649.85" stroke="#000" stroke-width="1.5" fill="none"/>
<rect x="661.00" y="873.95" width="10.50" height="37.55" fill="#000" stroke="#000" stroke-width="1.5"/>
<path d="M666.25 871.20V876.20M664.35 871.95H668.15M664.35 875.45H668.15" stroke="#000" stroke-width="1.5" fill="none"/>
<path d="M474.10 771.90V911.50H676.20" stroke="#000" stroke-width="2.0" fill="none" stroke-linejoin="miter"/>
<text x="458.78" y="915.47" font-size="11.50" textLength="5.75" lengthAdjust="spacingAndGlyphs">0</text>
<text x="453.03" y="880.56" font-size="11.50" textLength="11.50" lengthAdjust="spacingAndGlyphs">25</text>
<text x="453.03" y="845.67" font-size="11.50" textLength="11.50" lengthAdjust="spacingAndGlyphs">50</text>
<text x="453.03" y="810.72" font-size="11.50" textLength="11.50" lengthAdjust="spacingAndGlyphs">75</text>
<text x="447.28" y="775.87" font-size="11.50" textLength="17.25" lengthAdjust="spacingAndGlyphs">100</text>
<path d="M474.10 911.50H477.80M474.10 876.60H477.80M474.10 841.70H477.80M474.10 806.80H477.80M474.10 771.90H477.80M492.40 911.50V908.00M510.70 911.50V908.00M529.00 911.50V908.00M547.30 911.50V908.00M565.60 911.50V908.00M583.90 911.50V908.00M602.20 911.50V908.00M620.50 911.50V908.00M638.80 911.50V908.00M657.10 911.50V908.00M675.40 911.50V908.00" stroke="#000" stroke-width="1.5" fill="none"/>
<text x="565.28" y="750.50" font-size="13.40" textLength="46.17" lengthAdjust="spacingAndGlyphs">RIG-I-N</text>
<path d="M501.70 761.00H683.00" stroke="#000" stroke-width="1.6"/>
<path d="M514.30 924.00H564.50" stroke="#000" stroke-width="1.6"/>
<path d="M569.70 924.00H619.40" stroke="#000" stroke-width="1.6"/>
<path d="M625.50 924.00H676.20" stroke="#000" stroke-width="1.6"/>
<text x="520.40" y="942.30" font-size="12.80" textLength="37.42" lengthAdjust="spacingAndGlyphs">0.15μg</text>
<text x="580.20" y="942.30" font-size="12.80" textLength="30.72" lengthAdjust="spacingAndGlyphs">0.3μg</text>
<text x="638.49" y="942.30" font-size="12.80" textLength="31.74" lengthAdjust="spacingAndGlyphs">0.6μg</text>
<rect x="639.60" y="771.90" width="4.10" height="3.80" fill="#fff" stroke="#000" stroke-width="1.2"/>
<text x="645.97" y="776.52" font-size="8.3" textLength="28.47" lengthAdjust="spacingAndGlyphs">Vector</text>
<rect x="639.60" y="784.10" width="4.10" height="3.80" fill="#fff" stroke="#000" stroke-width="1.2"/>
<text x="645.96" y="788.72" font-size="8.3" textLength="15.95" lengthAdjust="spacingAndGlyphs">WT</text>
<rect x="639.60" y="795.90" width="4.10" height="3.80" fill="#777" stroke="#000" stroke-width="1.2"/>
<text x="645.60" y="800.52" font-size="8.3" textLength="29.39" lengthAdjust="spacingAndGlyphs">C269A</text>
<rect x="639.60" y="807.40" width="4.10" height="3.80" fill="#000" stroke="#000" stroke-width="1.2"/>
<text x="645.93" y="812.02" font-size="8.3" textLength="29.48" lengthAdjust="spacingAndGlyphs">H862A</text>
<text transform="translate(433.90,912.03) rotate(-90)" x="0" y="0" font-size="12.60" textLength="146.09" lengthAdjust="spacingAndGlyphs">IRF3-Luc (fold induction)</text>
<text class="L" x="377.54" y="730.10" font-size="43.86" textLength="26.73" lengthAdjust="spacingAndGlyphs">h</text>
</svg>
</body></html>
